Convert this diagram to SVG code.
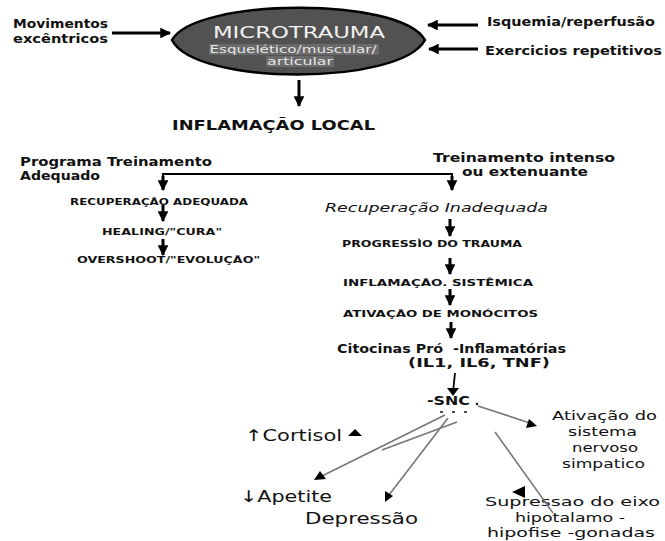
<svg xmlns="http://www.w3.org/2000/svg" width="665" height="541" viewBox="0 0 665 541">
<style>
text{font-family:"DejaVu Sans","Liberation Sans",sans-serif;fill:#111}
.b{font-weight:bold}
.s12{font-size:12px}
.s9{font-size:9px}
.s13{font-size:13px}
.s16{font-size:16px}
.arr{stroke:#000;stroke-width:3;fill:none;marker-end:url(#ah)}
.thin{stroke:#777;stroke-width:1.6;fill:none}
.tri{fill:#000}
</style>
<defs>
<marker id="ah" viewBox="0 0 10 10" refX="9" refY="5" markerWidth="3.6" markerHeight="3.6" orient="auto" markerUnits="strokeWidth">
<path d="M0,0 L10,5 L0,10 Z" fill="#000"/>
</marker>
</defs>

<g id="microtrauma">
<path d="M172,40 C195,-2 400,-4 425,40 C400,86 195,86 172,40 Z" fill="#525252" stroke="#000" stroke-width="2.5"/>
<text x="299" y="38" text-anchor="middle" style="font-size:15px;fill:#f2f2f2" textLength="172" lengthAdjust="spacingAndGlyphs">MICROTRAUMA</text>
<rect x="209" y="44" width="170" height="11" fill="#6a6a6a"/>
<rect x="266" y="56" width="68" height="11" fill="#6a6a6a"/>
<text x="293" y="53" text-anchor="middle" style="font-size:10px;fill:#e6e6e6" textLength="167" lengthAdjust="spacingAndGlyphs">Esquelético/muscular/</text>
<text x="300" y="65" text-anchor="middle" style="font-size:10px;fill:#e6e6e6" textLength="66" lengthAdjust="spacingAndGlyphs">articular</text>
</g>

<g id="movimentos">
<text x="13" y="28" class="b s12" textLength="95" lengthAdjust="spacingAndGlyphs">Movimentos</text>
<text x="13" y="43" class="b s12" textLength="95" lengthAdjust="spacingAndGlyphs">excêntricos</text>
</g>
<g id="isquemia"><text x="487" y="26" class="b s12" textLength="168" lengthAdjust="spacingAndGlyphs">Isquemia/reperfusão</text></g>
<g id="exercicios"><text x="485" y="55" class="b s12" textLength="177" lengthAdjust="spacingAndGlyphs">Exercicios repetitivos</text></g>

<g id="inflamacao-local"><text x="172" y="130" class="b" style="font-size:14px" textLength="203" lengthAdjust="spacingAndGlyphs">INFLAMAÇÃO LOCAL</text></g>

<g id="programa">
<text x="20" y="166" class="b s12" textLength="192" lengthAdjust="spacingAndGlyphs">Programa Treinamento</text>
<text x="20" y="180" class="b s12" textLength="80" lengthAdjust="spacingAndGlyphs">Adequado</text>
</g>
<g id="treinamento-intenso">
<text x="433" y="162" class="b s12" textLength="182" lengthAdjust="spacingAndGlyphs">Treinamento intenso</text>
<text x="462" y="176" class="b s12" textLength="126" lengthAdjust="spacingAndGlyphs">ou extenuante</text>
</g>

<g id="recuperacao-adequada"><text x="70" y="205" class="b s9" textLength="178" lengthAdjust="spacingAndGlyphs">RECUPERAÇÃO ADEQUADA</text></g>
<g id="healing"><text x="102" y="235" class="b s9" textLength="120" lengthAdjust="spacingAndGlyphs">HEALING/"CURA"</text></g>
<g id="overshoot"><text x="77" y="263" class="b s9" textLength="183" lengthAdjust="spacingAndGlyphs">OVERSHOOT/"EVOLUÇÃO"</text></g>

<g id="recuperacao-inadequada"><text x="325" y="212" class="s13" style="font-style:italic" textLength="223" lengthAdjust="spacingAndGlyphs">Recuperação Inadequada</text></g>
<g id="progressao"><text x="342" y="247" class="b s9" textLength="180" lengthAdjust="spacingAndGlyphs">PROGRESSÌO DO TRAUMA</text></g>
<g id="inflamacao-sistemica"><text x="343" y="286" class="b s9" textLength="190" lengthAdjust="spacingAndGlyphs">INFLAMAÇÃO. SISTÊMICA</text></g>
<g id="ativacao-monocitos"><text x="343" y="317" class="b s9" textLength="195" lengthAdjust="spacingAndGlyphs">ATIVAÇÃO DE MONÓCITOS</text></g>
<g id="citocinas">
<text x="337" y="353" class="b" style="font-size:11.5px" textLength="229" lengthAdjust="spacingAndGlyphs">Citocinas Pró&#160;&#160;-Inflamatórias</text>
<text x="408" y="367" class="b" style="font-size:11.5px" textLength="142" lengthAdjust="spacingAndGlyphs">(IL1, IL6, TNF)</text>
</g>
<g id="snc">
<text x="427" y="405" class="b s12" textLength="43" lengthAdjust="spacingAndGlyphs">-SNC</text>
<circle cx="477" cy="404" r="1.2" fill="#111"/>
<path d="M440,412h3M452,412h3M464,412h3" stroke="#111" stroke-width="1.5"/>
</g>

<g id="cortisol"><text x="245" y="441" class="s16" textLength="97" lengthAdjust="spacingAndGlyphs">↑Cortisol</text>
<path class="tri" d="M348,436 L355,429 L362,436 Z"/></g>
<g id="apetite"><text x="240" y="502" class="s16" textLength="92" lengthAdjust="spacingAndGlyphs">↓Apetite</text></g>
<g id="depressao"><text x="305" y="524" class="s16" textLength="113" lengthAdjust="spacingAndGlyphs">Depressão</text></g>
<g id="ativacao-simpatico">
<text x="552" y="420" class="s13" textLength="105" lengthAdjust="spacingAndGlyphs">Ativação do</text>
<text x="568" y="436" class="s13" textLength="69" lengthAdjust="spacingAndGlyphs">sistema</text>
<text x="572" y="452" class="s13" textLength="66" lengthAdjust="spacingAndGlyphs">nervoso</text>
<text x="562" y="468" class="s13" textLength="83" lengthAdjust="spacingAndGlyphs">simpatico</text>
</g>
<g id="supressao">
<text x="485" y="506" class="s12" textLength="175" lengthAdjust="spacingAndGlyphs">Supressao do eixo</text>
<text x="515" y="522" class="s12" textLength="110" lengthAdjust="spacingAndGlyphs">hipotalamo -</text>
<text x="487" y="537" class="s12" textLength="168" lengthAdjust="spacingAndGlyphs">hipofise -gonadas</text>
</g>

<g id="connectors">
<line class="arr" x1="112" y1="33" x2="170" y2="33"/>
<line class="arr" x1="478" y1="25" x2="428" y2="25"/>
<line class="arr" x1="478" y1="49" x2="429" y2="49"/>
<line class="arr" x1="299" y1="80" x2="299" y2="106"/>
<polyline points="163,180 163,174 452,174 452,180" stroke="#000" stroke-width="2" fill="none"/>
<line class="arr" x1="163" y1="176" x2="163" y2="190"/>
<line class="arr" x1="452" y1="176" x2="452" y2="190"/>
<line class="arr" x1="163" y1="205" x2="163" y2="221"/>
<line class="arr" x1="163" y1="239" x2="163" y2="255"/>
<line class="arr" x1="450" y1="219" x2="450" y2="236"/>
<line class="arr" x1="450" y1="258" x2="450" y2="274"/>
<line class="arr" x1="450" y1="289" x2="450" y2="305"/>
<line class="arr" x1="451" y1="322" x2="451" y2="338"/>
<line x1="455" y1="373" x2="453" y2="392" stroke="#000" stroke-width="1.8"/>
<path class="tri" d="M447,388 L453,396 L459,388 Z"/>
<line class="thin" x1="478" y1="406" x2="530" y2="423"/>
<path class="tri" d="M537,426 L526,428 L529,419 Z"/>
<line class="thin" x1="445" y1="415" x2="322" y2="476"/>
<path class="tri" d="M314,480 L320,471 L326,479 Z"/>
<line class="thin" x1="457" y1="422" x2="382" y2="450"/>
<line class="thin" x1="448" y1="418" x2="389" y2="495"/>
<path class="tri" d="M385,502 L385,491 L393,496 Z"/>
<line class="thin" x1="495" y1="432" x2="553" y2="513"/>
<path class="tri" d="M512,492 L525,486 L525,498 Z"/>
</g>
</svg>
